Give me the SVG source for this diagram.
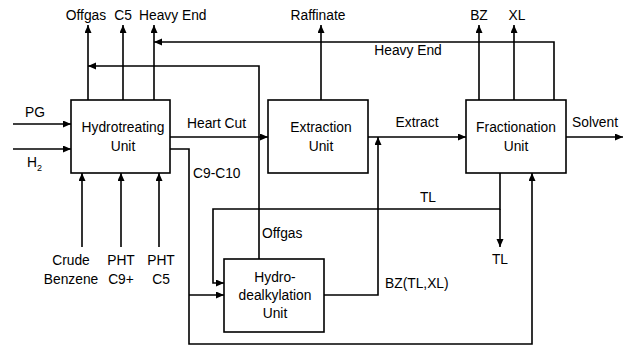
<svg xmlns="http://www.w3.org/2000/svg" width="630" height="349" viewBox="0 0 630 349">
<defs>
<marker id="arr" markerUnits="userSpaceOnUse" markerWidth="8" markerHeight="8" refX="8" refY="3.5" orient="auto">
<path d="M0,0 L8,3.5 L0,7 z" fill="#000"/>
</marker>
<style>
.box{fill:#fff;stroke:#000;stroke-width:1.6}
.ln{fill:none;stroke:#000;stroke-width:1.6}
.a{marker-end:url(#arr)}
text{font-family:"Liberation Sans",Arial,sans-serif;font-size:13.8px;fill:#000}
.m{text-anchor:middle}
</style>
</defs>
<rect width="630" height="349" fill="#fff"/>
<g id="connectors">
<line class="ln a" x1="88" y1="100" x2="88" y2="25"/>
<line class="ln a" x1="123" y1="100" x2="123" y2="25"/>
<line class="ln a" x1="154" y1="100" x2="154" y2="25"/>
<polyline class="ln a" points="554,100 554,42 154,42"/>
<polyline class="ln a" points="259,259 259,66 88,66"/>
<line class="ln a" x1="13" y1="124" x2="71" y2="124"/>
<line class="ln a" x1="13" y1="149" x2="71" y2="149"/>
<line class="ln a" x1="82" y1="247" x2="82" y2="173"/>
<line class="ln a" x1="121" y1="247" x2="121" y2="173"/>
<line class="ln a" x1="159" y1="247" x2="159" y2="173"/>
<line class="ln a" x1="170" y1="137" x2="268" y2="137"/>
<line class="ln a" x1="321" y1="100" x2="321" y2="25"/>
<line class="ln a" x1="368" y1="137" x2="466" y2="137"/>
<line class="ln a" x1="479" y1="100" x2="479" y2="25"/>
<line class="ln a" x1="514" y1="100" x2="514" y2="25"/>
<line class="ln a" x1="566" y1="137" x2="623" y2="137"/>
<polyline class="ln a" points="170,149 189,149 189,344 532,344 532,173"/>
<line class="ln a" x1="189" y1="295" x2="224" y2="295"/>
<polyline class="ln a" points="500,173 500,209 213,209 213,283 224,283"/>
<line class="ln a" x1="500" y1="209" x2="500" y2="247"/>
<polyline class="ln a" points="324,295 378,295 378,137"/>
</g>
<g id="hydrotreating">
<rect class="box" x="71" y="100" width="99" height="73"/>
<text class="m" x="123" y="132">Hydrotreating</text>
<text class="m" x="123" y="151">Unit</text>
</g>
<g id="extraction">
<rect class="box" x="268" y="100" width="100" height="73"/>
<text class="m" x="321" y="132">Extraction</text>
<text class="m" x="321" y="151">Unit</text>
</g>
<g id="fractionation">
<rect class="box" x="466" y="100" width="100" height="73"/>
<text class="m" x="516" y="132">Fractionation</text>
<text class="m" x="516" y="151">Unit</text>
</g>
<g id="hydrodealkylation">
<rect class="box" x="224" y="259" width="100" height="73"/>
<text class="m" x="275" y="282">Hydro-</text>
<text class="m" x="275" y="300">dealkylation</text>
<text class="m" x="275" y="318">Unit</text>
</g>
<g id="labels">
<text class="m" x="86" y="20">Offgas</text>
<text class="m" x="123" y="20">C5</text>
<text x="139" y="20">Heavy End</text>
<text class="m" x="318" y="20">Raffinate</text>
<text class="m" x="479" y="20">BZ</text>
<text class="m" x="517" y="20">XL</text>
<text class="m" x="408" y="55">Heavy End</text>
<text x="25" y="117">PG</text>
<text x="27" y="167">H<tspan font-size="9" dy="4">2</tspan></text>
<text x="187" y="128">Heart Cut</text>
<text x="193" y="178">C9-C10</text>
<text class="m" x="417" y="127">Extract</text>
<text x="572" y="127">Solvent</text>
<text class="m" x="428" y="202">TL</text>
<text class="m" x="500" y="264">TL</text>
<text x="262" y="238">Offgas</text>
<text x="385" y="288">BZ(TL,XL)</text>
<text class="m" x="71" y="265">Crude</text>
<text class="m" x="71" y="284">Benzene</text>
<text class="m" x="121" y="265">PHT</text>
<text class="m" x="121" y="284">C9+</text>
<text class="m" x="161" y="265">PHT</text>
<text class="m" x="161" y="284">C5</text>
</g>
</svg>
